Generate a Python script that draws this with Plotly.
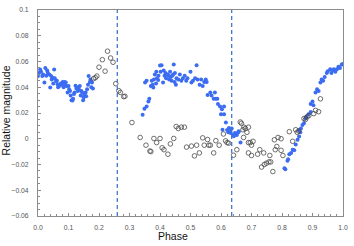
import plotly.graph_objects as go

# ---- data ----
blue_phase = [
    0.000, 0.003, 0.007, 0.010, 0.014, 0.017, 0.021, 0.024, 0.027, 0.030, 0.032, 0.037,
    0.040, 0.043, 0.045, 0.048, 0.050, 0.053, 0.055, 0.059, 0.062, 0.064, 0.066, 0.070,
    0.075, 0.078, 0.081, 0.084, 0.086, 0.088, 0.091, 0.093, 0.097, 0.100, 0.102, 0.105,
    0.107, 0.110, 0.113, 0.115, 0.118, 0.120, 0.123, 0.126, 0.129, 0.131, 0.134, 0.137,
    0.140, 0.142, 0.145, 0.148, 0.150, 0.152, 0.156, 0.158, 0.161, 0.164, 0.166, 0.170,
    0.172, 0.175, 0.177, 0.180,
    0.343, 0.349, 0.351, 0.356, 0.356, 0.362, 0.365, 0.370, 0.373, 0.376, 0.378, 0.380,
    0.383, 0.387, 0.388, 0.390, 0.394, 0.395, 0.400, 0.402, 0.405, 0.410, 0.412, 0.415,
    0.418, 0.420, 0.425, 0.428, 0.430, 0.433, 0.435, 0.438, 0.440, 0.443, 0.445, 0.448,
    0.449, 0.452, 0.454, 0.460, 0.465, 0.470, 0.475, 0.481, 0.486, 0.490, 0.500, 0.503,
    0.508, 0.515, 0.520, 0.523, 0.530, 0.535, 0.540, 0.545, 0.550, 0.553, 0.556, 0.565,
    0.569, 0.576, 0.580, 0.583, 0.588, 0.590, 0.597, 0.600, 0.603, 0.605, 0.610, 0.610,
    0.616, 0.620, 0.624, 0.626, 0.630, 0.632, 0.635, 0.639, 0.642, 0.646, 0.650, 0.652,
    0.657, 0.658, 0.664,
    0.808, 0.811, 0.818, 0.820, 0.824, 0.830, 0.835, 0.840, 0.845, 0.851, 0.856, 0.856,
    0.860, 0.862, 0.867, 0.872, 0.877, 0.880, 0.887, 0.894, 0.894, 0.900, 0.903, 0.910,
    0.915, 0.920, 0.926, 0.930, 0.935, 0.940, 0.947, 0.950, 0.958, 0.962, 0.967, 0.970,
    0.975, 0.980, 0.985, 0.990, 0.996, 1.000,
]
blue_mag = [
    0.0487, 0.0510, 0.0537, 0.0520, 0.0487, 0.0500, 0.0436, 0.0550, 0.0490, 0.0530, 0.0512, 0.0500,
    0.0398, 0.0487, 0.0460, 0.0474, 0.0430, 0.0537, 0.0470, 0.0449, 0.0450, 0.0423, 0.0400, 0.0411,
    0.0430, 0.0420, 0.0441, 0.0400, 0.0423, 0.0440, 0.0436, 0.0410, 0.0360, 0.0410, 0.0385, 0.0370,
    0.0335, 0.0300, 0.0297, 0.0310, 0.0347, 0.0360, 0.0411, 0.0390, 0.0398, 0.0370, 0.0385, 0.0410,
    0.0335, 0.0370, 0.0360, 0.0300, 0.0322, 0.0340, 0.0360, 0.0330, 0.0385, 0.0420, 0.0487, 0.0440,
    0.0461, 0.0400, 0.0436, 0.0390,
    0.0187, 0.0233, 0.0436, 0.0250, 0.0450, 0.0290, 0.0310, 0.0410, 0.0450, 0.0420, 0.0398, 0.0460,
    0.0500, 0.0430, 0.0520, 0.0470, 0.0457, 0.0490, 0.0568, 0.0520, 0.0570, 0.0436, 0.0530, 0.0490,
    0.0510, 0.0470, 0.0500, 0.0490, 0.0460, 0.0520, 0.0480, 0.0450, 0.0490, 0.0500, 0.0576, 0.0440,
    0.0510, 0.0420, 0.0470, 0.0460, 0.0500, 0.0450, 0.0470, 0.0490, 0.0450, 0.0470, 0.0520, 0.0436,
    0.0450, 0.0470, 0.0570, 0.0460, 0.0420, 0.0460, 0.0410, 0.0440, 0.0460, 0.0440, 0.0340, 0.0360,
    0.0335, 0.0310, 0.0360, 0.0310, 0.0310, 0.0270, 0.0250, 0.0190, 0.0230, 0.0070, 0.0250, 0.0190,
    0.0126, 0.0068, 0.0050, 0.0083, 0.0060, 0.0045, 0.0080, 0.0030, 0.0020, 0.0045, 0.0035, 0.0030,
    0.0050, 0.0058, -0.0030,
    -0.0230, -0.0237, -0.0170, -0.0160, -0.0120, -0.0110, -0.0085, -0.0090, -0.0045, -0.0008, 0.0017, 0.0068,
    0.0050, 0.0080, 0.0106, 0.0120, 0.0157, 0.0170, 0.0190, 0.0207, 0.0270, 0.0290, 0.0260, 0.0360,
    0.0385, 0.0370, 0.0436, 0.0460, 0.0450, 0.0480, 0.0510, 0.0525, 0.0540, 0.0510, 0.0530, 0.0540,
    0.0520, 0.0540, 0.0560, 0.0550, 0.0576, 0.0580,
]

open_phase = [
    0.182, 0.188, 0.193, 0.200, 0.211, 0.220, 0.228, 0.238, 0.246, 0.255, 0.265, 0.270,
    0.281, 0.285, 0.308,
    0.335, 0.354, 0.367, 0.370, 0.380, 0.389, 0.400, 0.407, 0.413, 0.426, 0.434, 0.445,
    0.453, 0.460, 0.470, 0.480, 0.487, 0.503, 0.513, 0.520, 0.529, 0.540, 0.545, 0.556,
    0.560, 0.565, 0.576, 0.583, 0.594, 0.608, 0.615, 0.620, 0.625, 0.641, 0.652, 0.663,
    0.667, 0.672, 0.675, 0.680, 0.685, 0.690, 0.674, 0.690, 0.696, 0.700, 0.705, 0.690,
    0.700, 0.720, 0.727, 0.740, 0.733, 0.742, 0.749, 0.757, 0.763, 0.760, 0.770, 0.775,
    0.787, 0.797, 0.778, 0.783, 0.797, 0.803, 0.824, 0.835, 0.845, 0.850, 0.855, 0.872,
    0.877, 0.882, 0.888, 0.904, 0.910, 0.920, 0.926,
]
open_mag = [
    0.0467, 0.0474, 0.0487, 0.0556, 0.0614, 0.0525, 0.0680, 0.0627, 0.0594, 0.0428, 0.0373, 0.0360,
    0.0327, 0.0330, 0.0126,
    0.0010, -0.0050, -0.0095, -0.0100, 0.0002, -0.0030, 0.0002, -0.0070, -0.0085, -0.0120, -0.0040, 0.0002,
    0.0095, 0.0080, 0.0090, 0.0090, -0.0065, -0.0057, -0.0133, -0.0050, -0.0110, 0.0007, -0.0050, -0.0006,
    -0.0050, -0.0050, -0.0110, -0.0015, -0.0050, 0.0037, -0.0016, -0.0030, -0.0034, -0.0128, -0.0085, 0.0130,
    0.0120, 0.0070, 0.0090, 0.0080, 0.0050, 0.0090, 0.0010, -0.0030, -0.0030, -0.0050, -0.0020, -0.0110,
    -0.0130, -0.0120, -0.0085, -0.0110, -0.0220, -0.0200, -0.0190, -0.0180, -0.0180, -0.0130, -0.0255, -0.0008,
    0.0010, 0.0000, -0.0085, -0.0060, -0.0090, -0.0130, 0.0055, -0.0020, 0.0070, 0.0050, 0.0060, 0.0157,
    0.0150, 0.0170, 0.0180, 0.0195, 0.0220, 0.0210, 0.0310,
]

marker_lines = [0.26, 0.635]

fig = go.Figure()
fig.add_trace(go.Scatter(
    x=blue_phase, y=blue_mag, mode="markers",
    marker=dict(symbol="circle", size=4, color="#3b6cf2", line=dict(width=0)),
    showlegend=False,
))
fig.add_trace(go.Scatter(
    x=open_phase, y=open_mag, mode="markers",
    marker=dict(symbol="circle-open", size=4.6, color="#4a4a4a", line=dict(width=0.8)),
    showlegend=False,
))

for p in marker_lines:
    fig.add_shape(type="line", xref="x", yref="paper", x0=p, x1=p, y0=0, y1=1,
                  line=dict(color="#4478cc", width=1.3, dash="4px,3px"))

axis_common = dict(
    showgrid=False, zeroline=False, showline=True, linecolor="#8c8c8c", linewidth=1,
    mirror=True, ticks="inside", ticklen=3, tickcolor="#8c8c8c",
    tickfont=dict(family="Liberation Sans, Arial", size=6.8, color="#555555"),
)

fig.update_xaxes(range=[0, 1], dtick=0.1, tick0=0, tickformat=".1f",
                 minor=dict(dtick=0.02, ticks="inside", ticklen=2, tickcolor="#8c8c8c"),
                 ticklabelstandoff=5, **axis_common)
fig.update_yaxes(range=[-0.06, 0.1], dtick=0.02, tick0=0,
                 minor=dict(dtick=0.005, ticks="inside", ticklen=2, tickcolor="#8c8c8c"),
                 ticklabelstandoff=7, **axis_common)

fig.add_annotation(text="Phase", xref="paper", yref="paper", x=0.444, y=-0.095,
                   xanchor="center", yanchor="middle", showarrow=False,
                   font=dict(family="Liberation Sans, Arial", size=10.5, color="#111111"))
fig.add_annotation(text="Relative magnitude", xref="paper", yref="paper", x=-0.104, y=0.514,
                   xanchor="center", yanchor="middle", showarrow=False, textangle=-90,
                   font=dict(family="Liberation Sans, Arial", size=10.5, color="#111111"))

fig.update_layout(
    width=354, height=246,
    margin=dict(l=38, r=6, t=6, b=30),
    paper_bgcolor="white", plot_bgcolor="white",
)

fig.write_html("out.html", config={"displayModeBar": False},
               post_script="document.body.style.margin='0';document.body.style.overflow='hidden';")
